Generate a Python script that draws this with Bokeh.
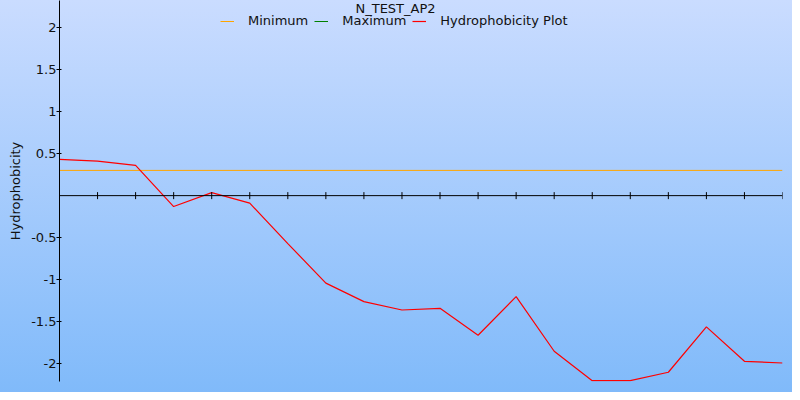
import numpy as np
from bokeh.plotting import figure
from bokeh.models import Range1d, FixedTicker, Legend, LegendItem, Label, Span
from bokeh.embed import file_html
from bokeh.resources import INLINE

# ---- data ----
title_text = "N_TEST_AP2"
residue_index = list(range(20))
hydrophobicity = [0.43, 0.41, 0.36, -0.13, 0.035, -0.09, -0.57, -1.04, -1.26, -1.36,
                  -1.34, -1.66, -1.20, -1.85, -2.20, -2.20, -2.10, -1.56, -1.97, -1.99]
minimum_value = 0.30
maximum_value = np.nan  # maximum line is not visible in the reference
y_tick_values = [-2, -1.5, -1, -0.5, 0.5, 1, 1.5, 2]
y_tick_labels = ["-2", "-1.5", "-1", "-0.5", "0.5", "1", "1.5", "2"]
y_label = "Hydrophobicity"
legend_labels = ["Minimum", "Maximum", "Hydrophobicity Plot"]

FONT = "DejaVu Sans"

p = figure(width=792, height=392, output_backend="svg", toolbar_location=None,
           x_range=Range1d(residue_index[0], residue_index[-1]),
           y_range=Range1d(-2.21, 2.32),
           min_border_left=59, min_border_right=10, min_border_top=0, min_border_bottom=11)

p.styles = {"background": "linear-gradient(to bottom, #CADCFF, #80BAFA)"}
p.background_fill_alpha = 0
p.border_fill_alpha = 0
p.outline_line_color = None
p.xgrid.visible = False
p.ygrid.visible = False
p.xaxis.visible = False

ends = [residue_index[0], residue_index[-1]]
r_min = p.line(x=ends, y=[minimum_value] * 2, line_color="#FFA500", line_width=1)
r_max = p.line(x=np.array(ends, dtype=float), y=np.array([maximum_value] * 2),
               line_color="#008000", line_width=1)
r_hyd = p.line(x=residue_index, y=hydrophobicity, line_color="#FF0000", line_width=1.2)

# horizontal axis line crossing at y = 0 with ticks at each residue
p.add_layout(Span(location=0, dimension="width", line_color="black", line_width=1))
p.scatter(x=residue_index, y=[0] * len(residue_index), marker="dash", angle=np.pi / 2,
          size=7, line_color="black", line_width=1)

# y axis
ya = p.yaxis[0]
ya.ticker = FixedTicker(ticks=y_tick_values)
ya.major_label_overrides = {v: l for v, l in zip(y_tick_values, y_tick_labels)}
ya.major_label_text_font = FONT
ya.major_label_text_font_size = "13px"
ya.major_label_text_color = "#111111"
ya.major_label_standoff = 0
ya.major_tick_in = 2
ya.major_tick_out = 3
ya.minor_tick_line_color = None
ya.axis_line_color = "black"
ya.major_tick_line_color = "black"
ya.axis_label = y_label
ya.axis_label_text_font = FONT
ya.axis_label_text_font_size = "13px"
ya.axis_label_text_font_style = "normal"
ya.axis_label_text_color = "#111111"
ya.axis_label_standoff = 5

legend = Legend(items=[LegendItem(label=legend_labels[0], renderers=[r_min]),
                       LegendItem(label=legend_labels[1], renderers=[r_max]),
                       LegendItem(label=legend_labels[2], renderers=[r_hyd])],
                orientation="horizontal", location=(161, 353),
                glyph_width=14, glyph_height=14, label_standoff=14, spacing=6,
                padding=0, margin=0, background_fill_alpha=0, border_line_color=None,
                label_text_font=FONT, label_text_font_size="13px", label_text_color="#111111")
p.add_layout(legend)

title = Label(x=336, y=373, x_units="screen", y_units="screen", text=title_text,
              text_align="center", text_baseline="alphabetic",
              text_font=FONT, text_font_size="13px", text_color="#111111")
p.add_layout(title)

open("out.html", "w").write(file_html(p, INLINE))
